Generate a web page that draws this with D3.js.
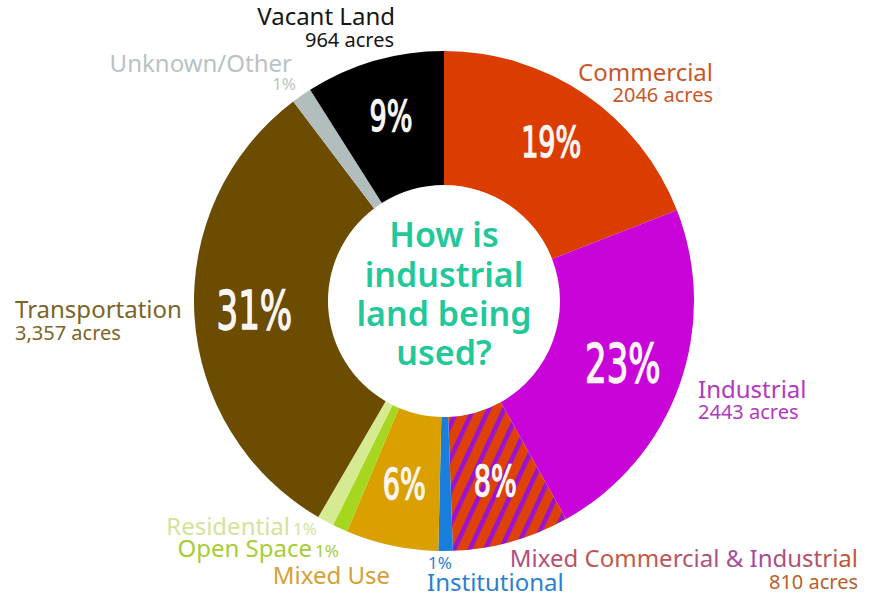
<!DOCTYPE html>
<html>
<head>
<meta charset="utf-8">
<script src="https://cdn.jsdelivr.net/npm/d3@7/dist/d3.min.js"></script>
<style>
  html, body { margin: 0; padding: 0; background: #fff; }
  svg { display: block; }
</style>
</head>
<body>
<svg id="chart" width="877" height="598"></svg>
<script>
// ---------------- DATA ----------------
const categories = ["Commercial", "Industrial", "Mixed Commercial & Industrial", "Institutional",
  "Mixed Use", "Open Space", "Residential", "Transportation", "Unknown/Other", "Vacant Land"];
const acres = [2046, 2443, 810, 100, 640, 105, 115, 3357, 140, 964];
const percentLabels = ["19%", "23%", "8%", "1%", "6%", "1%", "1%", "31%", "1%", "9%"];
const acreLabels = ["2046 acres", "2443 acres", "810 acres", "", "", "", "", "3,357 acres", "", "964 acres"];
const centerTitle = ["How is", "industrial", "land being", "used?"];

// ---------------- STYLE / LAYOUT ----------------
const sliceColors = ["#db3c00", "#c804d8", "url(#hatch)", "#1a7fdc", "#d9a000", "#a6d61e", "#d6ea92", "#6b4c00", "#b2bebe", "#000000"];
const textColors = ["#c9562a", "#b238c2", "url(#textHatch)", "#2b7fd0", "#d6a035", "#a6cc38", "#d2e49a", "#7a6428", "#b8c3c3", "#151515"];
const nameLayout = [
  {x: 713, y: 81, a: "end"},
  {x: 698, y: 398, a: "start"},
  {x: 858, y: 567, a: "end"},
  {x: 427, y: 591, a: "start"},
  {x: 390, y: 584, a: "end"},
  {x: 312, y: 557, a: "end"},
  {x: 290, y: 535, a: "end"},
  {x: 15, y: 318, a: "start"},
  {x: 292, y: 72, a: "end"},
  {x: 395, y: 25, a: "end"}
];
const subLayout = [
  {x: 713, y: 102, a: "end"},
  {x: 698, y: 419, a: "start"},
  {x: 858, y: 589, a: "end"},
  {x: 428, y: 569, a: "start"},
  null,
  {x: 315, y: 557, a: "start"},
  {x: 293, y: 535, a: "start"},
  {x: 15, y: 340, a: "start"},
  {x: 296, y: 90, a: "end"},
  {x: 394, y: 47, a: "end"}
];

const cx = 444, cy = 301, rOuter = 250, rInner = 116;
const fontFam = "'Noto Sans', 'Open Sans', sans-serif";

const svg = d3.select("#chart");
const defs = svg.append("defs");

// hatch pattern for Mixed Commercial & Industrial
const hatch = defs.append("pattern")
  .attr("id", "hatch")
  .attr("patternUnits", "userSpaceOnUse")
  .attr("width", 14).attr("height", 14)
  .attr("patternTransform", "rotate(25)");
hatch.append("rect").attr("width", 14).attr("height", 14).attr("fill", "#de4206");
hatch.append("rect").attr("x", 0).attr("width", 4.6).attr("height", 14).attr("fill", "#9a14cf");

const textHatch = defs.append("linearGradient")
  .attr("id", "textHatch")
  .attr("x1", "0%").attr("x2", "100%").attr("y1", "0%").attr("y2", "0%");
textHatch.append("stop").attr("offset", "0%").attr("stop-color", "#b04a86");
textHatch.append("stop").attr("offset", "35%").attr("stop-color", "#c45a3c");
textHatch.append("stop").attr("offset", "70%").attr("stop-color", "#a24aa8");
textHatch.append("stop").attr("offset", "100%").attr("stop-color", "#c2582c");

const pie = d3.pie().sort(null).value(d => d).startAngle(0).endAngle(2 * Math.PI);
const arcs = pie(acres);
const total = d3.sum(acres);
const arc = d3.arc().innerRadius(rInner).outerRadius(rOuter);
const labelArc = d3.arc().innerRadius(190).outerRadius(190);

const g = svg.append("g").attr("transform", `translate(${cx},${cy})`);

g.selectAll("path.slice")
  .data(arcs)
  .join("path")
  .attr("class", "slice")
  .attr("d", arc)
  .attr("fill", (d, i) => sliceColors[i]);

// percent labels inside big slices
const pctG = g.selectAll("g.pct")
  .data(arcs.filter(d => d.value / total > 0.04))
  .join("g")
  .attr("class", "pct")
  .attr("transform", d => {
    const [x, y] = labelArc.centroid(d);
    return `translate(${x},${y - 3})`;
  });
pctG.append("text")
  .attr("transform", "scale(0.7,1)")
  .attr("text-anchor", "middle")
  .attr("dy", "0.36em")
  .attr("fill", "#fbf6f4")
  .attr("stroke", "#fbf6f4")
  .attr("stroke-width", 1.4)
  .attr("font-family", "'DejaVu Sans Condensed', 'DejaVu Sans', sans-serif")
  .attr("font-size", d => d.value / total > 0.2 ? 54 : 43)
  .text(d => percentLabels[d.index]);

// center title
svg.append("g")
  .selectAll("text")
  .data(centerTitle)
  .join("text")
  .attr("x", cx)
  .attr("y", (d, i) => [247, 287, 326, 365][i])
  .attr("text-anchor", "middle")
  .attr("fill", "#22c89a")
  .attr("font-family", fontFam)
  .attr("font-weight", 600)
  .attr("font-size", 34)
  .text(d => d);

// outside name labels
svg.append("g")
  .selectAll("text")
  .data(categories)
  .join("text")
  .attr("x", (d, i) => nameLayout[i].x)
  .attr("y", (d, i) => nameLayout[i].y)
  .attr("text-anchor", (d, i) => nameLayout[i].a)
  .attr("font-family", fontFam)
  .attr("font-size", 24)
  .attr("fill", (d, i) => textColors[i])
  .text(d => d);

// secondary lines (acres or small percents)
const subData = categories.map((c, i) => ({i, text: acreLabels[i] || (acres[i] / total < 0.02 ? percentLabels[i] : "")}))
  .filter(d => d.text && subLayout[d.i]);
svg.append("g")
  .selectAll("text")
  .data(subData)
  .join("text")
  .attr("x", d => subLayout[d.i].x)
  .attr("y", d => subLayout[d.i].y)
  .attr("text-anchor", d => subLayout[d.i].a)
  .attr("font-family", fontFam)
  .attr("font-size", d => acreLabels[d.i] ? 20 : 17)
  .attr("fill", d => d.i === 2 ? "#b8602c" : textColors[d.i])
  .text(d => d.text);
</script>
</body>
</html>
